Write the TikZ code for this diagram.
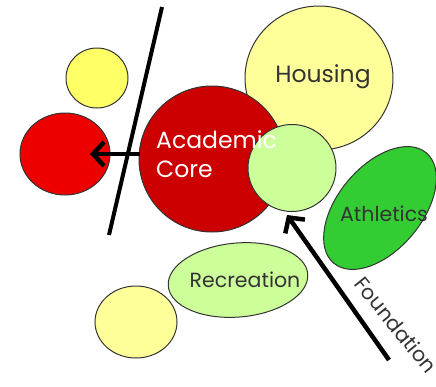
\documentclass[tikz,border=0pt]{standalone}
\usepackage{fontspec}
\setmainfont{Poppins}
\usetikzlibrary{shapes.geometric,arrows.meta}
\definecolor{ylw}{HTML}{FFFF66}
\definecolor{paleylw}{HTML}{FFFF99}
\definecolor{acadred}{HTML}{CC0000}
\definecolor{brightred}{HTML}{EE0000}
\definecolor{ltgreen}{HTML}{CCFF99}
\definecolor{midgreen}{HTML}{33CC33}
\definecolor{txtgray}{HTML}{333333}
\tikzset{
  blob/.style={ellipse, draw=txtgray, line width=1pt, inner sep=0pt},
  lbl/.style={text=txtgray, inner sep=0pt, font=\fontsize{20.5}{20.5}\selectfont},
  biglbl/.style={inner sep=0pt, font=\fontsize{23.5}{23.5}\selectfont},
  bigarrow/.style={line width=4.5pt, -{Straight Barb[length=11pt,width=24pt,line width=4.5pt]}},
  divider/.style={line width=4pt}
}
\begin{document}
\begin{tikzpicture}[x=1pt,y=-1pt]
\useasboundingbox[fill=white] (0,0) rectangle (436,386);
% shapes
\node[blob, fill=ylw, minimum width=62pt, minimum height=60pt] (topyellow) at (97,78) {};
\node[blob, fill=brightred, minimum width=90pt, minimum height=82pt] (leftred) at (65,154) {};
\node[blob, fill=paleylw, minimum width=148pt, minimum height=144pt] (housing) at (319,78) {};
\node[blob, fill=acadred, minimum width=146pt, minimum height=146pt] (acad) at (212,159) {};
\node[blob, fill=ltgreen, minimum width=88pt, minimum height=87pt] (found) at (292,168) {};
\node[blob, fill=midgreen, minimum width=144pt, minimum height=84pt, rotate=50] (athl) at (380,208) {};
\node[blob, fill=ltgreen, minimum width=140pt, minimum height=74pt, rotate=5] (recr) at (238,280) {};
\node[blob, fill=paleylw, minimum width=82pt, minimum height=72pt] (botyellow) at (136,322) {};
% labels
\node[biglbl, text=txtgray, anchor=base] (housingtxt) at (323,82) {Housing};
\node[biglbl, text=white, anchor=base west] (acadtxt1) at (156,148) {Academic};
\node[biglbl, text=white, anchor=base west] (acadtxt2) at (156,177) {Core};
\node[lbl, anchor=base] (athltxt) at (384,221) {Athletics};
\node[lbl, anchor=base] (recrtxt) at (245,287) {Recreation};
\node[lbl, rotate=-51] (foundtxt) at (396,325) {Foundation};
% connectors
\coordinate (linetop) at (162,7);
\coordinate (linebot) at (109,235);
\coordinate (atail) at (140,154);
\coordinate (atip) at (90,154);
\coordinate (ftail) at (389,360);
\coordinate (ftip) at (287,215);
\draw[bigarrow] (atail) -- (atip);
\draw[divider] (linetop) -- (linebot);
\draw[bigarrow] (ftail) -- (ftip);
\end{tikzpicture}
\end{document}
